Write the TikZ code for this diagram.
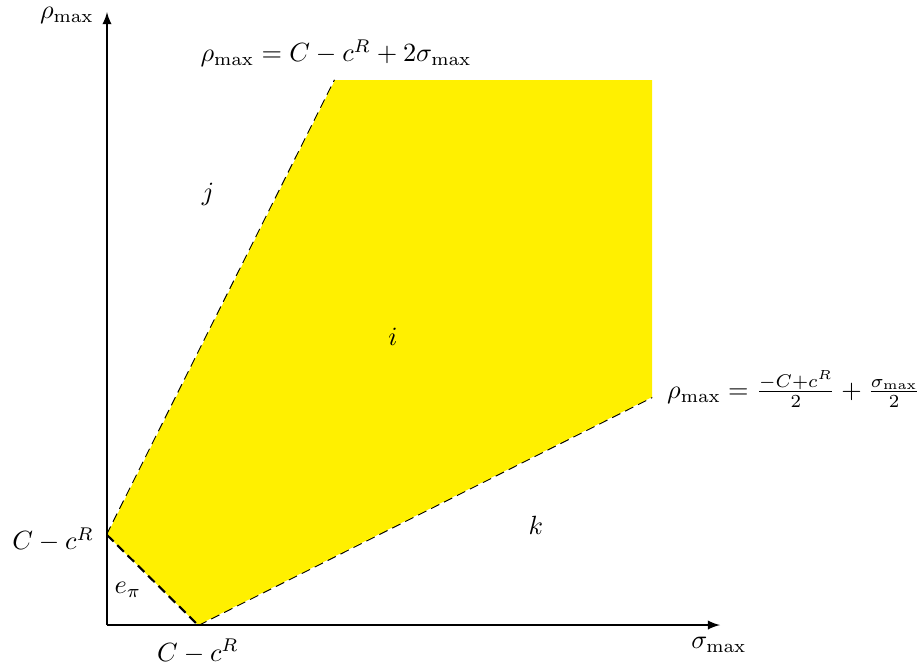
\documentclass[tikz,border=0pt]{standalone}
\usetikzlibrary{arrows}
\definecolor{regionyellow}{RGB}{255,240,0}
\tikzset{
  axis/.style={semithick,->,>=latex},
  bound/.style={dash pattern=on 3.5pt off 2pt,line width=0.8pt},
  boundthick/.style={dash pattern=on 3.5pt off 2pt,thick},
  lbl/.style={inner sep=1pt}
}
\begin{document}
\begin{tikzpicture}[x=0.38pt,y=-0.38pt]
\useasboundingbox (0,0) rectangle (924,666);
\coordinate (O) at (107,625);
\coordinate (Ytop) at (107,12);
\coordinate (Xend) at (720,625);
\coordinate (P1) at (107,535);
\coordinate (P2) at (335,80);
\coordinate (P3) at (652,80);
\coordinate (P4) at (652,397);
\coordinate (P5) at (198,625);
\draw[bound] (P1) -- (P2);
\draw[bound] (P5) -- (P4);
\fill[regionyellow] (P1) -- (P2) -- (P3) -- (P4) -- (P5) -- cycle;
\draw[boundthick] (P1) -- (P5);
\draw[axis] (O) -- (Ytop);
\draw[axis] (O) -- (Xend);
\node[lbl,anchor=east] (ylab) at (97,15) {$\rho_{\max}$};
\node[lbl,anchor=north] (xlab) at (719,634) {$\sigma_{\max}$};
\node[lbl,anchor=south] (toplab) at (336,70) {$\rho_{\max} = C - c^R + 2\sigma_{\max}$};
\node[lbl,anchor=west] (rightlab) at (664,389) {$\rho_{\max} = \frac{-C+c^R}{2} + \frac{\sigma_{\max}}{2}$};
\node[lbl,anchor=east] (ylab2) at (97,540) {$C - c^R$};
\node[lbl,anchor=north] (xlab2) at (198,636) {$C - c^R$};
\node (j) at (208,194) {$j$};
\node (i) at (393,337) {$i$};
\node (k) at (536,525) {$k$};
\node (e) at (128,590) {$e_\pi$};
\end{tikzpicture}
\end{document}
